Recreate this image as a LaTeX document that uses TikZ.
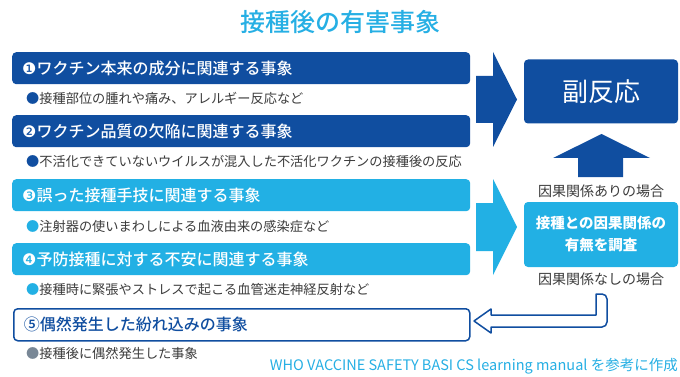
\documentclass[tikz,border=0pt]{standalone}
\usepackage{fontspec}
\setmainfont{Noto Sans CJK JP}
\newfontfamily\jpm{Noto Sans CJK JP Medium}
\newfontfamily\dv{DejaVu Sans}
\definecolor{dblue}{RGB}{16,78,160}
\definecolor{lblue}{RGB}{34,176,228}
\definecolor{ttl}{RGB}{38,175,228}
\definecolor{txt}{RGB}{60,60,60}
\definecolor{gbul}{RGB}{120,135,150}
\tikzset{
  hbox/.style={rounded corners=4pt, minimum width=458pt, minimum height=32pt,
    inner xsep=10pt, text width=438pt, align=left, anchor=north west,
    font=\jpm\fontsize{16}{18}\selectfont, text=white},
  bul/.style={anchor=west, inner sep=0pt, font=\fontsize{13.2}{15}\selectfont, text=txt},
  rbox/.style={rounded corners=4pt, minimum width=154pt, text=white, align=center},
  lab/.style={inner sep=0pt, font=\fontsize{14}{16}\selectfont, text=txt},
}
\begin{document}
\begin{tikzpicture}[x=1pt,y=-1pt]
\useasboundingbox[fill=white] (0,0) rectangle (680,377);

\node[font=\jpm\fontsize{25}{30}\selectfont, text=ttl] (title) at (340,22) {接種後の有害事象};

% left boxes
\node[hbox, fill=dblue] (b1) at (12,52) {{\dv ❶}ワクチン本来の成分に関連する事象};
\node[bul] (t1) at (26,98) {\textcolor{dblue}{●}接種部位の腫れや痛み、アレルギー反応など};
\node[hbox, fill=dblue] (b2) at (12,115) {{\dv ❷}ワクチン品質の欠陥に関連する事象};
\node[bul] (t2) at (26,161.5) {\textcolor{dblue}{●}不活化できていないウイルスが混入した不活化ワクチンの接種後の反応};
\node[hbox, fill=lblue] (b3) at (12,179) {{\dv ❸}誤った接種手技に関連する事象};
\node[bul] (t3) at (26,226) {\textcolor{lblue}{●}注射器の使いまわしによる血液由来の感染症など};
\node[hbox, fill=lblue] (b4) at (12,243) {{\dv ❹}予防接種に対する不安に関連する事象};
\node[bul] (t4) at (26,290) {\textcolor{lblue}{●}接種時に緊張やストレスで起こる血管迷走神経反射など};
\node[hbox, fill=white, draw=dblue, line width=1.5pt, text=dblue, minimum width=456pt, text width=436pt] (b5) at (13,308) {⑤偶然発生した紛れ込みの事象};
\node[bul] (t5) at (26,353) {\textcolor{gbul}{●}接種後に偶然発生した事象};

% big arrows
\fill[dblue] (476,76) -- (493,76) -- (493,52) -- (517,99.5) -- (493,147) -- (493,123) -- (476,123) -- cycle;
\fill[lblue] (476,203) -- (493,203) -- (493,179) -- (517,227) -- (493,275) -- (493,251) -- (476,251) -- cycle;

% right boxes
\node[rbox, fill=dblue, minimum height=64pt, font=\fontsize{26}{30}\selectfont] (fuku) at (601,91.5) {副反応};
\node[rbox, fill=lblue, minimum height=65pt, font=\bfseries\fontsize{14.5}{22}\selectfont] (chosa) at (601,234.5) {接種との因果関係の\\有無を調査};
\node[lab] (ari) at (601,191) {因果関係ありの場合};
\node[lab] (nashi) at (601,279) {因果関係なしの場合};

% up arrow
\fill[dblue] (578,177) -- (578,158) -- (553,158) -- (601.5,134) -- (650,158) -- (623,158) -- (623,177) -- cycle;

% hollow arrow
\draw[dblue, line width=1.5pt, fill=white, line join=round]
  (596,294) -- (596,315) -- (491,315) -- (491,309) -- (474,321) -- (491,333) -- (491,327)
  [rounded corners=5pt] -- (607,327) -- (607,294) [sharp corners] -- cycle;

% footer
\node[anchor=east, inner sep=0pt, font=\fontsize{14.5}{16}\selectfont, text=ttl] (foot) at (678,366) {WHO VACCINE SAFETY BASI CS learning manual を参考に作成};
\end{tikzpicture}
\end{document}
